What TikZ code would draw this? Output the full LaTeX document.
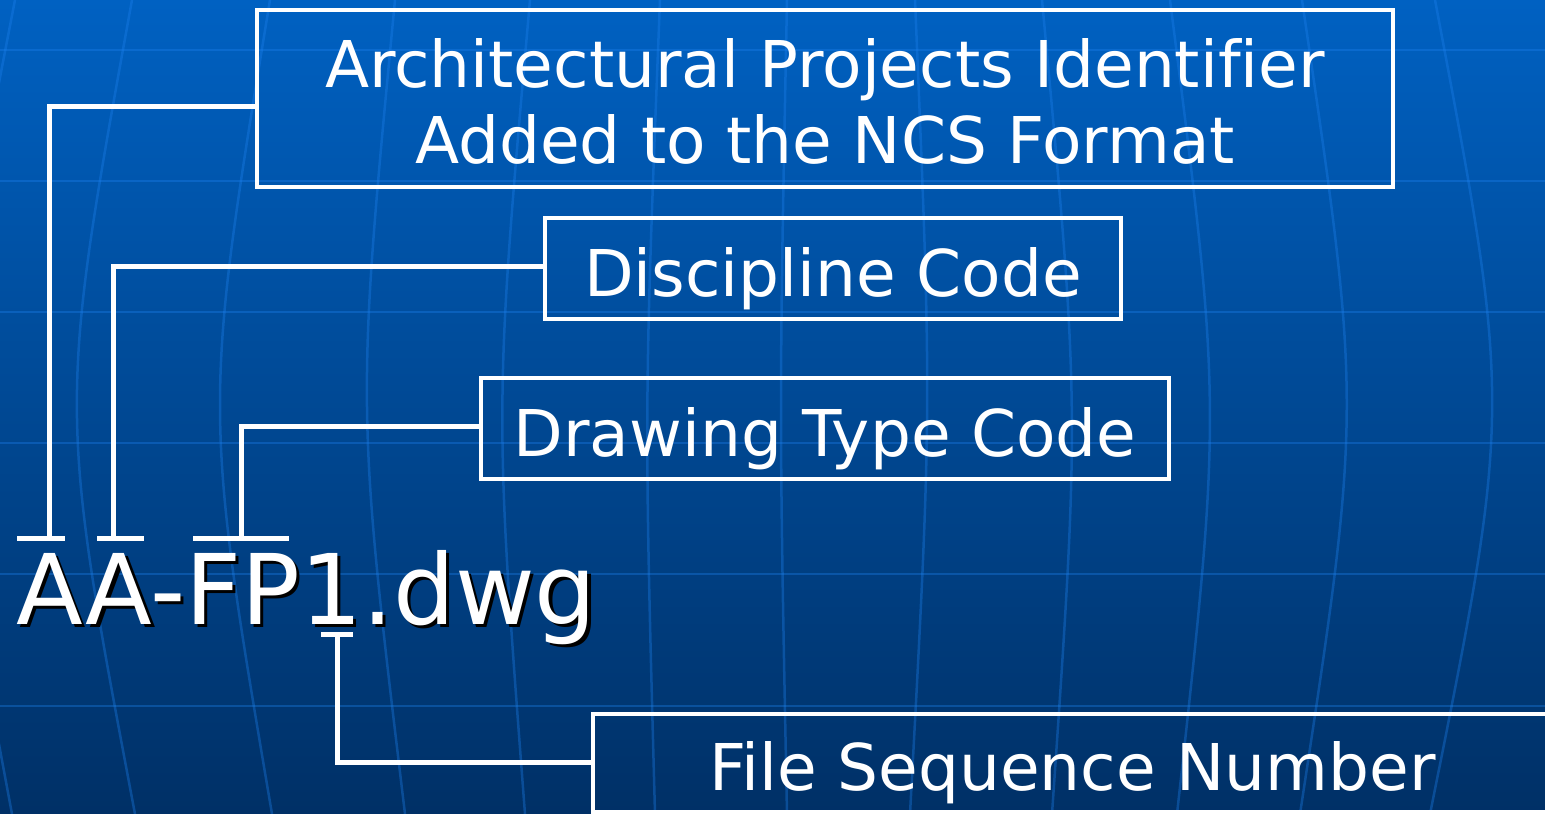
\documentclass[tikz,border=0pt]{standalone}
\usepackage{fontspec}
\setmainfont[Ligatures=NoCommon]{DejaVu Sans}

\definecolor{bgtop}{RGB}{0,97,194}
\definecolor{bgbot}{RGB}{0,48,102}
\definecolor{gridblue}{RGB}{30,130,240}

\tikzset{
  codebox/.style={draw=white, line width=4.5pt, text=white, inner sep=0pt,
    align=center, font=\fontsize{64.5}{76}\selectfont,
    text height=61pt, text depth=6pt},
  leader/.style={white, line width=5pt},
  gridline/.style={gridblue, opacity=0.35, line width=2.5pt},
  bigname/.style={anchor=base west, inner sep=0pt, font=\fontsize{97.5}{110}\selectfont}
}

\begin{document}
\begin{tikzpicture}[x=1pt,y=-1pt]
  \useasboundingbox (0,0) rectangle (1545,814);
  \clip (0,0) rectangle (1545,814);
  \shade[top color=bgtop, bottom color=bgbot] (0,0) rectangle (1545,814);
  % globe
  \foreach \yy in {50,181,312,443,574,706}
    \draw[gridline] (0,\yy) -- (1545,\yy);
  \foreach \xt/\xc/\xb in {15/-64/12, 132/58/135, 270/203/272, 395/356/405,
      530/494/525, 660/644/655, 787/779/787, 915/932/910, 1042/1080/1052,
      1170/1222/1177, 1302/1362/1300, 1435/1512/1430}
    \draw[gridline] (\xt,0) .. controls (\xc,407) .. (\xb,814);

  \node[codebox, minimum width=1136pt, minimum height=177pt,
    text height=130pt, text depth=1pt] (apid) at (825,98.5)
    {Architectural Projects Identifier\\Added to the NCS Format};
  \node[codebox, minimum width=576pt, minimum height=101pt] (disc) at (833,268.5) {Discipline Code};
  \node[codebox, minimum width=688pt, minimum height=101pt] (dtype) at (825,428.5) {Drawing Type Code};
  \node[codebox, minimum width=959pt, minimum height=98pt] (fsn) at (1072.5,763) {File Sequence Number};

  \node[bigname, text=black] (fshadow) at (19.5,627.5) {AA-FP1.dwg};
  \node[bigname, text=white] (fname) at (16,624) {AA-FP1.dwg};

  \coordinate (tA) at (49,538);
  \coordinate (tB) at (113,538);
  \coordinate (tC) at (241,538);
  \coordinate (tD) at (337,634);

  \draw[leader] ([yshift=-7.5pt]apid.west) -| (tA);
  \draw[leader] ([yshift=2.5pt]disc.west) -| (tB);
  \draw[leader] ([yshift=2.5pt]dtype.west) -| (tC);
  \draw[leader] ([yshift=1pt]fsn.west) -| (tD);
  % brackets over the letters
  \draw[leader] (17,538) -- (65,538);
  \draw[leader] (97,538) -- (144,538);
  \draw[leader] (193,538) -- (289,538);
  \draw[leader] (321,634) -- (353,634);
\end{tikzpicture}
\end{document}
